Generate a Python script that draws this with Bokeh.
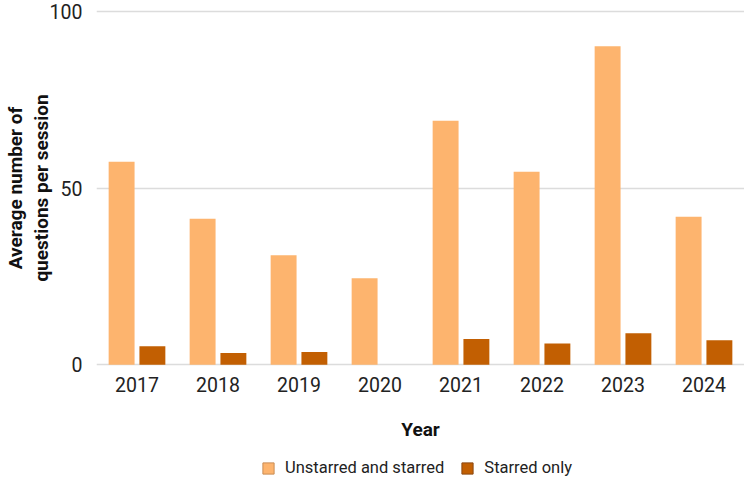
from bokeh.plotting import figure
from bokeh.layouts import column
from bokeh.models import ColumnDataSource, FactorRange, Range1d, Legend, LegendItem, FixedTicker
from bokeh.transform import dodge
from bokeh.embed import file_html
from bokeh.resources import INLINE

years = ["2017", "2018", "2019", "2020", "2021", "2022", "2023", "2024"]
unstarred_and_starred = [57.4, 41.3, 31.0, 24.5, 69.0, 54.6, 90.1, 41.9]
starred_only = [5.2, 3.3, 3.6, 0.0, 7.3, 6.0, 8.9, 6.9]
y_ticks = [0, 50, 100]
series_names = ["Unstarred and starred", "Starred only"]
colors = ["#FDB46E", "#C25F02"]
legend_borders = ["#C98D55", "#8A4812"]

source = ColumnDataSource(data=dict(year=years, a=unstarred_and_starred, b=starred_only))

FONT = "Roboto"
TEXT = "#222222"
W = 744
H1 = 450
H2 = 29

p = figure(width=W, height=H1, x_range=FactorRange(*years), y_range=Range1d(-0.5, 100.5),
           output_backend="svg", toolbar_location=None,
           min_border_left=96, min_border_right=0, min_border_top=9, min_border_bottom=84)

r1 = p.vbar(x=dodge("year", -0.19, range=p.x_range), top="a", bottom=0, width=0.32, source=source,
            fill_color=colors[0], line_color=None)
r2 = p.vbar(x=dodge("year", 0.19, range=p.x_range), top="b", bottom=0, width=0.32, source=source,
            fill_color=colors[1], line_color=None)

p.outline_line_color = None
p.xgrid.grid_line_color = None
p.ygrid.grid_line_color = "#DCDCDC"
p.ygrid.grid_line_width = 1.5
p.yaxis.ticker = FixedTicker(ticks=y_ticks)

for ax in (p.xaxis[0], p.yaxis[0]):
    ax.axis_line_color = None
    ax.major_tick_line_color = None
    ax.minor_tick_line_color = None
    ax.major_tick_out = 0
    ax.major_tick_in = 0
    ax.major_label_text_font = FONT
    ax.major_label_text_font_size = "19.5px"
    ax.major_label_text_color = TEXT
    ax.axis_label_text_font = FONT
    ax.axis_label_text_font_style = "bold"
    ax.axis_label_text_font_size = "19px"
    ax.axis_label_text_color = "#111111"
    ax.axis_label_text_line_height = 1.1

p.xaxis.axis_label = "Year"
p.xaxis.major_label_standoff = 10
p.xaxis.axis_label_standoff = 23
p.yaxis.axis_label = "Average number of\nquestions per session"
p.yaxis.major_label_standoff = 14
p.yaxis.axis_label_standoff = -6
p.x_range.range_padding = 0
p.x_range.group_padding = 0

# legend strip below the chart
q = figure(width=W, height=H2, x_range=Range1d(0, 1), y_range=Range1d(0, 1),
           output_backend="svg", toolbar_location=None,
           min_border_left=0, min_border_right=0, min_border_top=0, min_border_bottom=0)
q.frame_align = False
q.axis.visible = False
q.grid.visible = False
q.outline_line_color = None
l1 = q.vbar(x=[0], top=[0], bottom=[0], width=0.1, fill_color=colors[0],
            line_color=legend_borders[0], line_width=1)
l2 = q.vbar(x=[0], top=[0], bottom=[0], width=0.1, fill_color=colors[1],
            line_color=legend_borders[1], line_width=1)

legend = Legend(items=[LegendItem(label=series_names[0], renderers=[l1]),
                       LegendItem(label=series_names[1], renderers=[l2])],
                orientation="horizontal", location=(261, 2),
                label_text_font=FONT, label_text_font_size="16.5px", label_text_color=TEXT,
                glyph_width=14, glyph_height=14, label_standoff=10, spacing=16,
                padding=0, margin=0, border_line_color=None, background_fill_alpha=0)
q.add_layout(legend, "center")

layout = column(p, q, spacing=0)
open("out.html", "w").write(file_html(layout, INLINE))
